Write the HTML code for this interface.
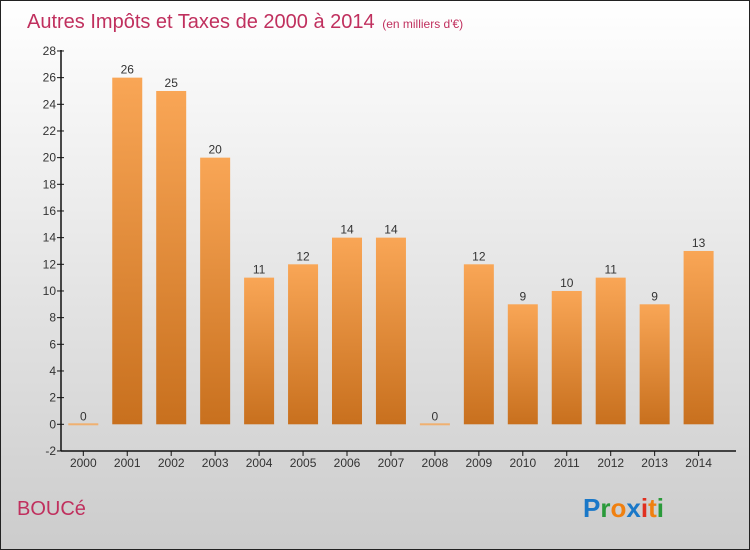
<!DOCTYPE html>
<html><head><meta charset="utf-8"><style>
body{margin:0}
#c{position:relative;width:748px;height:548px;border:1px solid #222;background:linear-gradient(#ffffff,#cccccc);font-family:"Liberation Sans",sans-serif;overflow:hidden}
</style></head><body>
<div id="c">
<svg width="748" height="548" style="position:absolute;left:0;top:0" id="svg">
<defs><linearGradient id="bg" x1="0" y1="0" x2="0" y2="1"><stop offset="0" stop-color="#f9a656"/><stop offset="1" stop-color="#c8701e"/></linearGradient></defs>
<text x="26" y="27" font-size="20" fill="#c0305e">Autres Impôts et Taxes de 2000 à 2014 <tspan font-size="12" dx="2">(en milliers d'€)</tspan></text>
<text x="16" y="514" font-size="20" fill="#c0305e">BOUCé</text>
<text x="582" y="516" font-size="26" font-weight="bold"><tspan fill="#1a78c8">P</tspan><tspan fill="#2a9a3a">r</tspan><tspan fill="#f08010">o</tspan><tspan fill="#1a78c8">x</tspan><tspan fill="#e03020">i</tspan><tspan fill="#f08010">t</tspan><tspan fill="#2a9a3a">i</tspan></text>
<g id="g"></g>
</svg>
</div>
<script>
const categories=["2000","2001","2002","2003","2004","2005","2006","2007","2008","2009","2010","2011","2012","2013","2014"];
const values=[0,26,25,20,11,12,14,14,0,12,9,10,11,9,13];
const yTicks=[-2,0,2,4,6,8,10,12,14,16,18,20,22,24,26,28];
const NS="http://www.w3.org/2000/svg";
const g=document.getElementById('g');
const y=v=>423.3-(v)*13.333;
const x=i=>82.3+i*43.95;
function mk(t,a){const e=document.createElementNS(NS,t);for(const k in a)e.setAttribute(k,a[k]);g.appendChild(e);return e;}
let ax=mk('line',{x1:60,y1:49,x2:60,y2:450,stroke:'#111','stroke-width':1.5});

let bx=mk('line',{x1:60,y1:450,x2:735,y2:450,stroke:'#111','stroke-width':1.5});

yTicks.forEach(v=>{
 const l=mk('line',{x1:56,x2:63,y1:y(v),y2:y(v),stroke:'#111'});
 
 const t=mk('text',{x:55,y:y(v)+4,'text-anchor':'end','font-size':12,fill:'#333'});t.textContent=v;
 
});
categories.forEach((c,i)=>{
 const cx=x(i),v=values[i];
 const l=mk('line',{x1:cx,x2:cx,y1:450,y2:455,stroke:'#111'});
 
 const t=mk('text',{x:cx,y:466,'text-anchor':'middle','font-size':12,fill:'#333'});t.textContent=c;
 
 let b;
 if(v===0){b=mk('rect',{x:cx-15,y:y(0)-1,width:30,height:2,fill:'#f0b070'});}
 else{b=mk('rect',{x:cx-15,y:y(v),width:30,height:y(0)-y(v),fill:'url(#bg)'});}
 
 const vt=mk('text',{x:cx,y:y(v)-4,'text-anchor':'middle','font-size':12,fill:'#333'});vt.textContent=v;
 
});
</script>
</body></html>
